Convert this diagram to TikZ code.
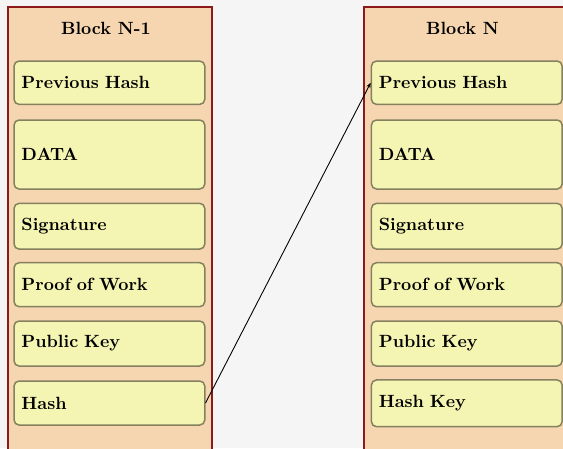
\documentclass[tikz,border=0pt]{standalone}
\usetikzlibrary{arrows.meta}
\newlength\pxu
\setlength\pxu{0.565pt}
\definecolor{bgcol}{HTML}{F5F5F5}
\definecolor{blockfill}{HTML}{F6D6B0}
\definecolor{blockdraw}{HTML}{8B1A1A}
\definecolor{itemfill}{HTML}{F4F5B2}
\definecolor{itemdraw}{HTML}{858060}
\tikzset{
  blockbox/.style={draw=blockdraw, fill=blockfill, line width=2\pxu, inner sep=0pt},
  blocktitle/.style={font=\bfseries, inner sep=0pt},
  itembox/.style={draw=itemdraw, fill=itemfill, line width=1.5\pxu, rounded corners=5\pxu,
    minimum width=190.7\pxu, inner xsep=7.4\pxu, inner ysep=0pt,
    text width=175.9\pxu, align=left, font=\bfseries},
  link/.style={-{Stealth[length=3pt,width=2.4pt]}, line width=0.5pt, black}
}
\begin{document}
\begin{tikzpicture}[x=\pxu, y=-\pxu]
\fill[bgcol] (0,0) rectangle (563,448);
\useasboundingbox (0,0) rectangle (563,448);
\clip (0,0) rectangle (563,448);
% blocks
\node[blockbox, minimum width=203.7\pxu, minimum height=480\pxu, anchor=north west] (blkA) at (7,6) {};
\node[blockbox, minimum width=203.7\pxu, minimum height=480\pxu, anchor=north west] (blkB) at (363.3,6) {};
\node[blocktitle] (titleA) at (106,28) {Block N-1};
\node[blocktitle] (titleB) at (462.5,28) {Block N};
% left items
\node[itembox, minimum height=43.3\pxu, anchor=west] (a1) at (13.3,82.7) {Previous Hash};
\node[itembox, minimum height=69\pxu, anchor=west] (a2) at (13.3,154.5) {DATA};
\node[itembox, minimum height=45.7\pxu, anchor=west] (a3) at (13.3,226.2) {Signature};
\node[itembox, minimum height=44\pxu, anchor=west] (a4) at (13.3,284.7) {Proof of Work};
\node[itembox, minimum height=45\pxu, anchor=west] (a5) at (13.3,343.5) {Public Key};
\node[itembox, minimum height=44\pxu, anchor=west] (a6) at (13.3,403) {Hash};
% right items
\node[itembox, minimum height=43.3\pxu, anchor=west] (b1) at (370.7,82.7) {Previous Hash};
\node[itembox, minimum height=69\pxu, anchor=west] (b2) at (370.7,154.5) {DATA};
\node[itembox, minimum height=45.7\pxu, anchor=west] (b3) at (370.7,226.2) {Signature};
\node[itembox, minimum height=44\pxu, anchor=west] (b4) at (370.7,284.7) {Proof of Work};
\node[itembox, minimum height=45\pxu, anchor=west] (b5) at (370.7,343.5) {Public Key};
\node[itembox, minimum height=46.7\pxu, anchor=west] (b6) at (370.7,403.3) {Hash Key};
% link
\draw[link] (a6.east) -- (b1.west);
\end{tikzpicture}
\end{document}
